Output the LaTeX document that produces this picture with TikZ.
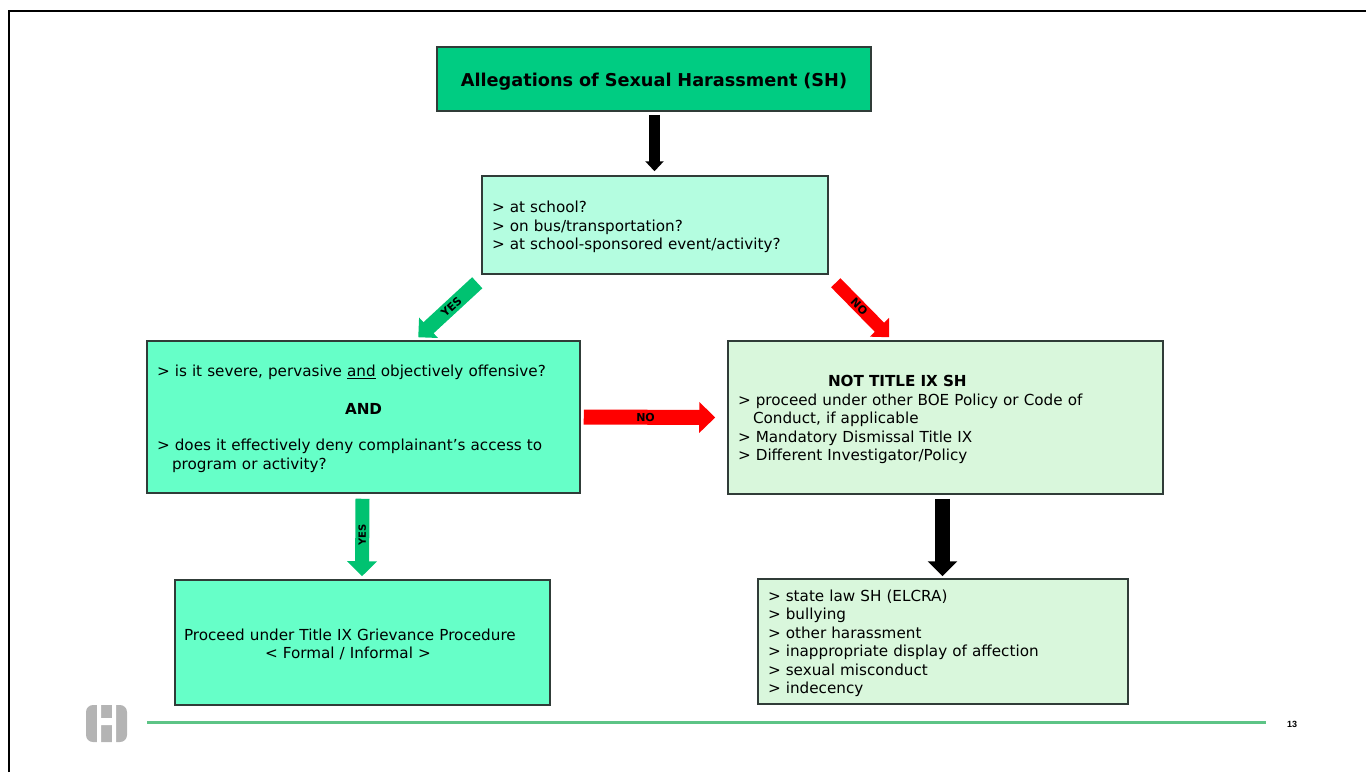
\documentclass[tikz,border=0pt]{standalone}
\usepackage{fontspec}
\setmainfont{DejaVu Sans}
\newfontfamily\pagefont{Liberation Sans}
\usetikzlibrary{arrows.meta}
\definecolor{titlegreen}{HTML}{00CC82}
\definecolor{palemint}{HTML}{B4FDE0}
\definecolor{mint}{HTML}{66FFC8}
\definecolor{palegreen}{HTML}{D9F7DC}
\definecolor{yesgreen}{HTML}{00C271}
\definecolor{rulegreen}{HTML}{5DC486}
\definecolor{logogrey}{HTML}{B4B4B4}
\definecolor{boxline}{HTML}{303C38}
\newcommand{\gt}{\textgreater\ }
\begin{document}
\begin{tikzpicture}[x=1pt,y=-1pt,
       box/.style={rectangle,draw=boxline,line width=1.5pt,inner xsep=10pt,inner ysep=0pt,align=left,
                   font=\fontsize{15.2}{18.5}\selectfont,execute at begin node={\rule{0pt}{15.5pt}}},
       titlebox/.style={box,fill=titlegreen,align=center,font=\fontsize{17.7}{22}\selectfont\bfseries,
                   execute at begin node={\rule{0pt}{19.5pt}}},
       blockarrow/.style n args={3}{line width=#1,-{Triangle[length=#3,width=#2]}},
       tag/.style={midway,sloped,font=\fontsize{11}{12}\selectfont\bfseries,text=black,inner sep=0pt}]
   \useasboundingbox (0,0) rectangle (1366,772);
   % slide frame, rule, logo
   \draw[line width=2.5pt] (9,772) |- (1366,11);
   \draw[rulegreen,line width=3pt] (147,722) -- (1266,722);
   \node[font=\pagefont\fontsize{9}{10}\selectfont\bfseries,inner sep=0pt] (pageno) at (1292,724) {13};
   \fill[logogrey,rounded corners=7pt] (86,705) rectangle (127,742);
   \fill[white] (97,704) rectangle (101,743) (112,704) rectangle (116,743) (100,718) rectangle (113,725);
   % boxes
   \node[titlebox,text width=414pt,minimum height=64pt] (allegations) at (654,79) {Allegations of Sexual Harassment (SH)};
   \node[box,fill=palemint,text width=326pt,minimum height=98pt] (where) at (655,225)
       {\gt at school?\\ \gt on bus/transportation?\\ \gt at school-sponsored event/activity?};
   \node[box,fill=mint,text width=413pt,minimum height=152pt] (severe) at (363.5,417)
       {\gt is it severe, pervasive \underline{and} objectively offensive?\\[19pt]
        \hspace*{188pt}\textbf{AND}\\[18pt]
        \gt does it effectively deny complainant's access to\\
        \hspace*{15pt}program or activity?};
   \node[box,fill=palegreen,text width=415pt,minimum height=153pt] (nottitle) at (945.5,417.5)
       {\hspace*{90pt}\textbf{NOT TITLE IX SH}\\
        \gt proceed under other BOE Policy or Code of\\
        \hspace*{15pt}Conduct, if applicable\\
        \gt Mandatory Dismissal Title IX\\
        \gt Different Investigator/Policy};
   \node[box,fill=mint,text width=357pt,minimum height=125pt,inner xsep=9pt] (proceed) at (362.5,642.5)
       {Proceed under Title IX Grievance Procedure\\
        \hspace*{81pt}\textless\ Formal / Informal \textgreater};
   \node[box,fill=palegreen,text width=350pt,minimum height=125pt] (conduct) at (943,641.5)
       {\gt state law SH (ELCRA)\\ \gt bullying\\ \gt other harassment\\
        \gt inappropriate display of affection\\ \gt sexual misconduct\\ \gt indecency};
   % arrows
   \draw[blockarrow={11pt}{18pt}{10pt},draw=black] ([shift={(0.5,3)}]allegations.south) -- ([shift={(-0.5,-4)}]where.north);
   \draw[blockarrow={15pt}{27pt}{14pt},draw=yesgreen] ([shift={(-4,8)}]where.south west) -- ([shift={(272,-3)}]severe.north west)
       node[tag,pos=.44] {YES};
   \draw[blockarrow={13pt}{26pt}{14pt},draw=red] ([shift={(7,8)}]where.south east) -- ([shift={(162,-3)}]nottitle.north west)
       node[tag,pos=.44] {NO};
   \draw[blockarrow={15pt}{30pt}{16pt},draw=red] ([shift={(3,0)}]severe.east) -- ([shift={(-12,0)}]nottitle.west)
       node[tag,pos=.47] {NO};
   \draw[blockarrow={14pt}{29pt}{15pt},draw=yesgreen] ([shift={(-1,5)}]severe.south) -- ([shift={(-0.5,-3)}]proceed.north)
       node[tag,pos=.47,font=\fontsize{10}{12}\selectfont\bfseries] {YES};
   \draw[blockarrow={15pt}{29pt}{15pt},draw=black] ([shift={(-3,4)}]nottitle.south) -- ([shift={(-0.5,-2)}]conduct.north);
\end{tikzpicture}
\end{document}
